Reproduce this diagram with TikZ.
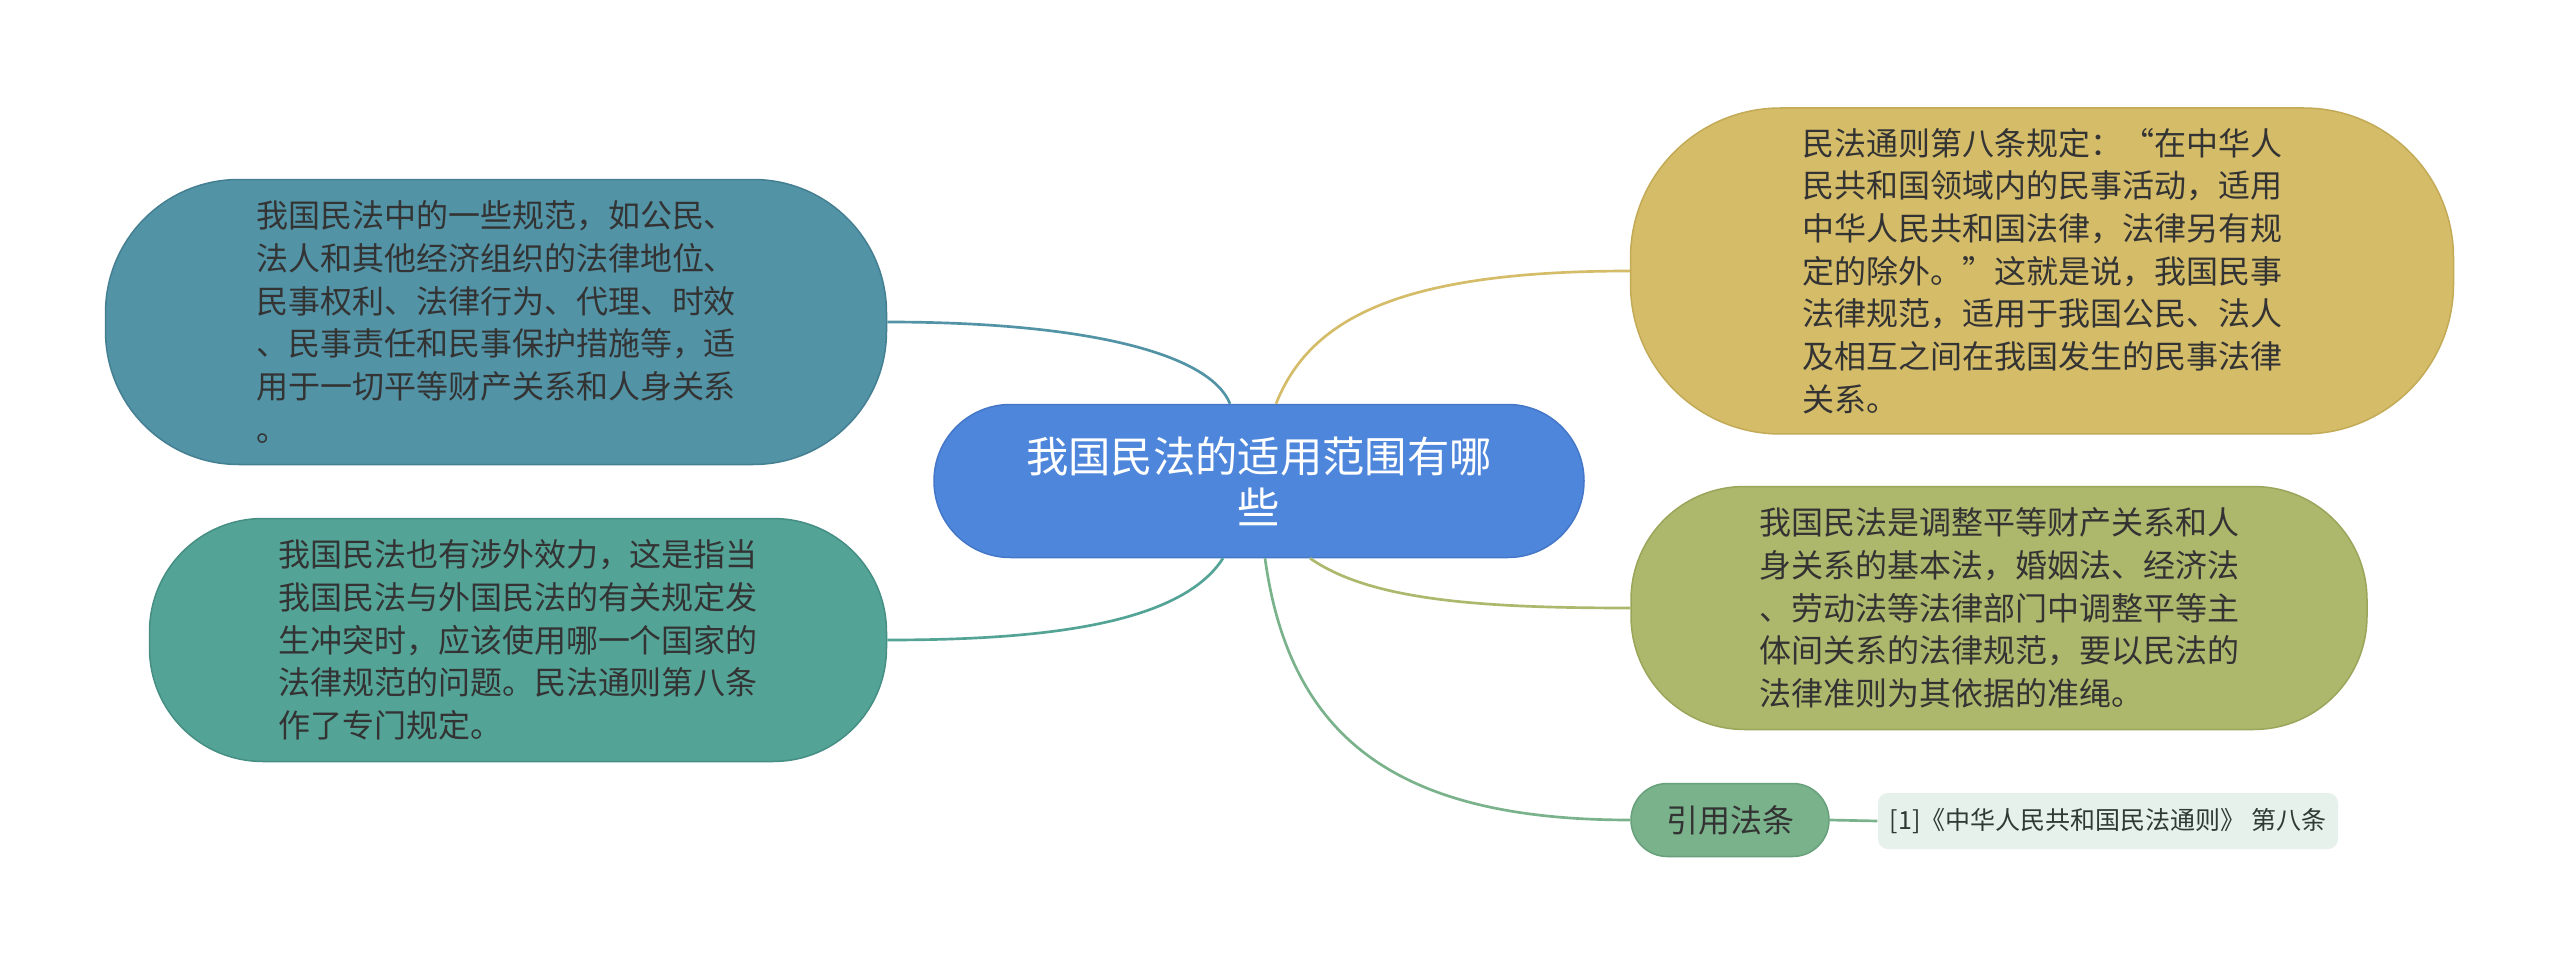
\documentclass[tikz,border=0pt]{standalone}
\usepackage{fontspec}
\setmainfont{Noto Sans CJK SC}
\usetikzlibrary{calc}
\definecolor{txt}{HTML}{333333}
\definecolor{cfill}{HTML}{4E86DB}\definecolor{cdraw}{HTML}{4477C8}
\definecolor{tlfill}{HTML}{5293A6}\definecolor{tldraw}{HTML}{447F92}
\definecolor{blfill}{HTML}{54A397}\definecolor{bldraw}{HTML}{468F84}
\definecolor{trfill}{HTML}{D4BC69}\definecolor{trdraw}{HTML}{C2AA57}
\definecolor{mrfill}{HTML}{ADB86C}\definecolor{mrdraw}{HTML}{9BA65B}
\definecolor{qfill}{HTML}{79B28B}\definecolor{qdraw}{HTML}{67A07A}
\definecolor{rfill}{HTML}{E7F1EC}
\definecolor{rtxt}{HTML}{2E3A33}
\tikzset{
  bub/.style={rectangle, inner sep=0pt, align=left, text=txt, line width=0.45pt,
    font=\fontsize{9.6pt}{12.8pt}\selectfont},
  conn/.style={line width=0.8pt},
}
\begin{document}
\begin{tikzpicture}[x=0.3pt,y=-0.3pt]
\useasboundingbox[fill=white] (0,0) rectangle (2560,965);
% central
\node[bub, fill=cfill, draw=cdraw, text=white, align=center,
  minimum width=195pt, minimum height=45.9pt, rounded corners=22.9pt,
  font=\fontsize{12.7pt}{15.2pt}\selectfont] (c) at (1259,481)
  {我国民法的适用范围有哪\\些};
% top-left
\node[bub, fill=tlfill, draw=tldraw, minimum width=234.3pt, minimum height=85.5pt,
  rounded corners=40pt] (tl) at (496,322)
  {我国民法中的一些规范，如公民、\\法人和其他经济组织的法律地位、\\民事权利、法律行为、代理、时效\\、民事责任和民事保护措施等，适\\用于一切平等财产关系和人身关系\\。};
% bottom-left
\node[bub, fill=blfill, draw=bldraw, minimum width=221.1pt, minimum height=72.9pt,
  rounded corners=34pt] (bl) at (518,640)
  {我国民法也有涉外效力，这是指当\\我国民法与外国民法的有关规定发\\生冲突时，应该使用哪一个国家的\\法律规范的问题。民法通则第八条\\作了专门规定。};
% top-right
\node[bub, fill=trfill, draw=trdraw, minimum width=246.9pt, minimum height=97.8pt,
  rounded corners=45pt] (tr) at (2042,271)
  {民法通则第八条规定：“在中华人\\民共和国领域内的民事活动，适用\\中华人民共和国法律，法律另有规\\定的除外。”这就是说，我国民事\\法律规范，适用于我国公民、法人\\及相互之间在我国发生的民事法律\\关系。};
% middle-right
\node[bub, fill=mrfill, draw=mrdraw, minimum width=220.8pt, minimum height=72.9pt,
  rounded corners=34pt] (mr) at (1999,608)
  {我国民法是调整平等财产关系和人\\身关系的基本法，婚姻法、经济法\\、劳动法等法律部门中调整平等主\\体间关系的法律规范，要以民法的\\法律准则为其依据的准绳。};
% quote label
\node[bub, fill=qfill, draw=qdraw, align=center, minimum width=59.4pt, minimum height=21.9pt,
  rounded corners=10.9pt] (q) at (1730,820) {引用法条};
% reference
\node[bub, fill=rfill, text=rtxt, align=center, minimum width=138pt, minimum height=16.8pt,
  rounded corners=3pt, font=\fontsize{7.5pt}{9pt}\selectfont] (r) at (2108,821)
  {[1]《中华人民共和国民法通则》 第八条};
% connectors
\draw[conn, tlfill] ($(c.north)+(-29,0)$) .. controls +(-20,-50) and +(200,0) .. (tl.east);
\draw[conn, trfill] ($(c.north)+(17,0)$) .. controls +(34,-85) and +(-231,0) .. (tr.west);
\draw[conn, blfill] ($(c.south)+(-36,0)$) .. controls +(-43,67) and +(153,0) .. (bl.east);
\draw[conn, mrfill] ($(c.south)+(51,0)$) .. controls +(60,42) and +(-151,0) .. (mr.west);
\draw[conn, qfill] ($(c.south)+(6,0)$) .. controls +(25,182) and +(-231,0) .. (q.west);
\draw[conn, qfill] (q.east) -- (r.west);
\end{tikzpicture}
\end{document}
